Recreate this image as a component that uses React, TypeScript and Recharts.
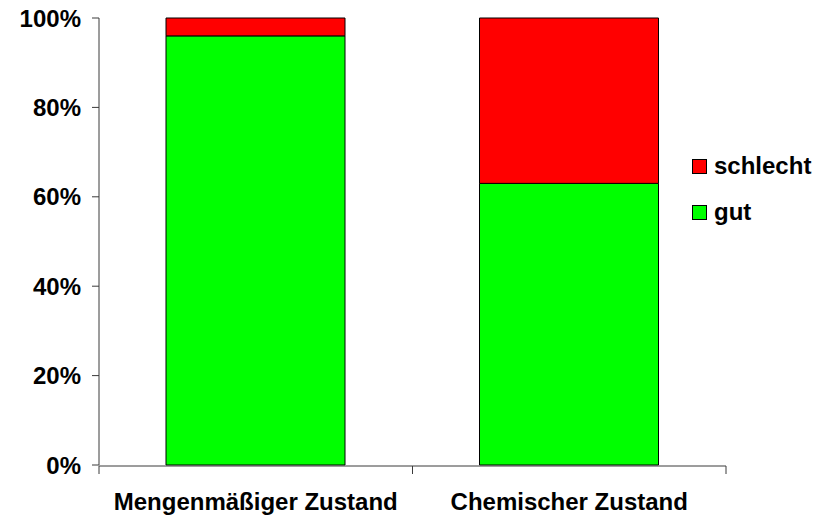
import { BarChart, Bar, XAxis, YAxis, Legend } from 'recharts';

const categories = ['Mengenmäßiger Zustand', 'Chemischer Zustand'];
const gut = [96, 63];
const schlecht = [4, 37];
const yTicks = [0, 20, 40, 60, 80, 100];
const boundaryTicks = [0, 1, 2];

const data = categories.map((name, i) => ({
  name,
  pos: i + 0.5,
  gut: gut[i],
  schlecht: schlecht[i],
}));

const FONT = '"Liberation Sans", Arial, sans-serif';
const AXIS = '#3a3a3a';

function LegendBox({ payload }: any) {
  const items = [...(payload ?? [])].reverse();
  return (
    <div style={{ fontFamily: FONT, fontWeight: 700, fontSize: 24, color: '#000' }}>
      {items.map((p: any) => (
        <div key={p.value} style={{ display: 'flex', alignItems: 'center', height: 46 }}>
          <span
            style={{
              width: 13,
              height: 13,
              background: p.color,
              border: '1px solid #000',
              marginRight: 7,
            }}
          />
          {p.value}
        </div>
      ))}
    </div>
  );
}

export default function App() {
  return (
    <div style={{ position: 'absolute', left: 0, top: 0, width: 827, height: 517, background: '#fff' }}>
      <BarChart
        width={827}
        height={517}
        data={data}
        margin={{ top: 18, right: 101, bottom: 50, left: 0 }}
      >
        <YAxis
          domain={[0, 100]}
          ticks={yTicks}
          width={99}
          tickFormatter={(v: number) => `${v}%`}
          tick={{ fontSize: 24, fontWeight: 700, fill: '#000', fontFamily: FONT }}
          tickSize={7}
          tickMargin={11}
          stroke={AXIS}
          interval={0}
        />
        {/* axis line with ticks between the categories */}
        <XAxis
          xAxisId="grid"
          type="number"
          dataKey="pos"
          domain={[0, 2]}
          ticks={boundaryTicks}
          height={1}
          tickSize={8}
          stroke={AXIS}
          tickFormatter={() => ''}
          interval={0}
        />
        {/* category labels, no line */}
        <XAxis
          xAxisId="cat"
          dataKey="name"
          height={1}
          axisLine={false}
          tickLine={false}
          tickSize={0}
          tickMargin={28}
          interval={0}
          tick={{ fontSize: 24, fontWeight: 700, fill: '#000', fontFamily: FONT }}
        />
        <Legend
          layout="vertical"
          align="center"
          verticalAlign="middle"
          content={<LegendBox />}
          wrapperStyle={{ position: 'absolute', left: 692, top: 143, width: 130 }}
        />
        <Bar
          xAxisId="cat"
          dataKey="gut"
          name="gut"
          stackId="a"
          fill="#00ff00"
          stroke="#000"
          strokeWidth={1}
          barSize={179}
          isAnimationActive={false}
        />
        <Bar
          xAxisId="cat"
          dataKey="schlecht"
          name="schlecht"
          stackId="a"
          fill="#ff0000"
          stroke="#000"
          strokeWidth={1}
          barSize={179}
          isAnimationActive={false}
        />
      </BarChart>
    </div>
  );
}
